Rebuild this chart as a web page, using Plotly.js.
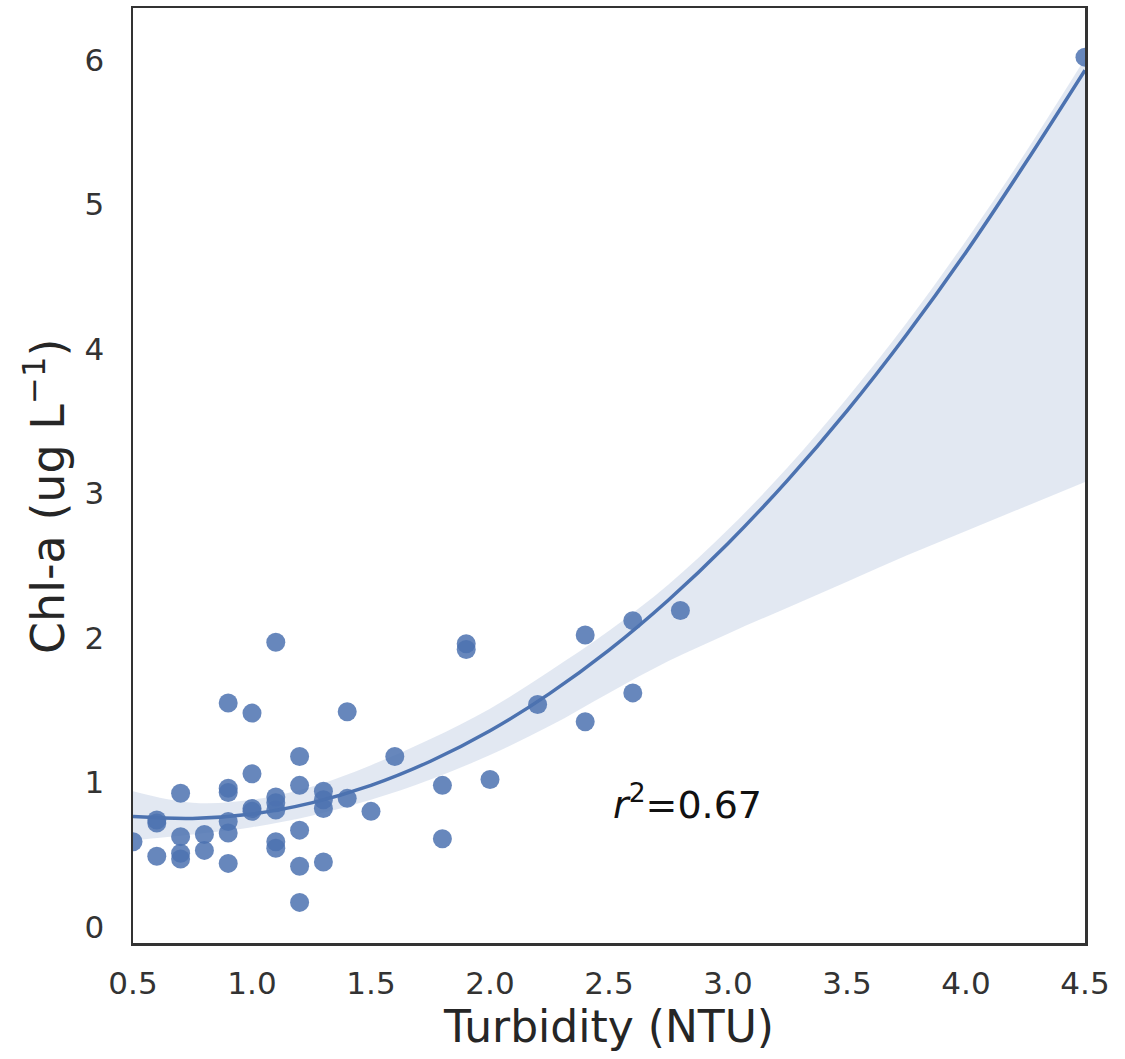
<!DOCTYPE html>
<html>
<head>
<meta charset="utf-8">
<script src="https://cdn.plot.ly/plotly-3.0.1.min.js"></script>
<style>
html,body{margin:0;padding:0;background:#fff;}
#chart{width:1125px;height:1059px;}
</style>
</head>
<body>
<div id="chart"></div>
<script>
// Observed samples: turbidity (NTU) and Chl-a (ug/L)
const turbidity = [
  0.5,
  0.6, 0.6, 0.6,
  0.7, 0.7, 0.7, 0.7,
  0.8, 0.8,
  0.9, 0.9, 0.9, 0.9, 0.9, 0.9,
  1.0, 1.0, 1.0, 1.0,
  1.1, 1.1, 1.1, 1.1, 1.1, 1.1,
  1.2, 1.2, 1.2, 1.2, 1.2,
  1.3, 1.3, 1.3, 1.3,
  1.4, 1.4,
  1.5,
  1.6,
  1.8, 1.8,
  1.9, 1.9,
  2.0,
  2.2,
  2.4, 2.4,
  2.6, 2.6,
  2.8,
  4.5
];
const chla = [
  0.59,
  0.74, 0.72, 0.49,
  0.925, 0.625, 0.51, 0.47,
  0.64, 0.53,
  1.55, 0.96, 0.93, 0.73, 0.65, 0.44,
  1.48, 1.06, 0.82, 0.80,
  1.97, 0.90, 0.86, 0.81, 0.59, 0.545,
  1.18, 0.98, 0.67, 0.42, 0.17,
  0.94, 0.88, 0.82, 0.45,
  1.49, 0.89,
  0.80,
  1.18,
  0.98, 0.61,
  1.96, 1.92,
  1.02,
  1.54,
  2.02, 1.42,
  2.12, 1.62,
  2.19,
  6.02
];

// Second-order regression curve and its confidence band
const fitX      = [0.5, 0.75, 1.0, 1.25, 1.5, 1.75, 2.0, 2.25, 2.5, 2.75, 3.0, 3.25, 3.5, 3.75, 4.0, 4.25, 4.5];
const fitY      = [0.764, 0.751, 0.782, 0.859, 0.98, 1.147, 1.358, 1.615, 1.916, 2.263, 2.654, 3.091, 3.572, 4.099, 4.67, 5.287, 5.93];
const bandUpper = [0.94, 0.86, 0.88, 0.97, 1.12, 1.30, 1.51, 1.77, 2.05, 2.37, 2.75, 3.18, 3.66, 4.18, 4.75, 5.36, 6.01];
const bandLower = [0.60, 0.64, 0.69, 0.77, 0.88, 1.02, 1.19, 1.39, 1.62, 1.84, 2.03, 2.21, 2.39, 2.57, 2.74, 2.91, 3.08];

const xTicks = [0.5, 1.0, 1.5, 2.0, 2.5, 3.0, 3.5, 4.0, 4.5];
const yTicks = [0, 1, 2, 3, 4, 5, 6];
const xTitle = "Turbidity (NTU)";
const yTitle = "Chl-a (ug L<sup>−1</sup>)";
const r2Label = "<i>r</i><sup>2</sup>=0.67";

const blue = "#4C72B0";
const font = "DejaVu Sans, sans-serif";

const traces = [
  {x: fitX, y: bandLower, mode: "lines", line: {width: 0, shape: "spline"}, hoverinfo: "skip", showlegend: false},
  {x: fitX, y: bandUpper, mode: "lines", line: {width: 0, shape: "spline"}, fill: "tonexty",
   fillcolor: "rgba(76,114,176,0.16)", hoverinfo: "skip", showlegend: false},
  {x: turbidity, y: chla, mode: "markers", type: "scatter",
   marker: {size: 19, color: "rgba(76,114,176,0.85)", line: {width: 0}}, showlegend: false},
  {x: fitX, y: fitY, mode: "lines", line: {color: blue, width: 3.5, shape: "spline"}, showlegend: false}
];

const layout = {
  width: 1125, height: 1059,
  margin: {l: 133, r: 40, t: 8, b: 116},
  paper_bgcolor: "#fff", plot_bgcolor: "#fff",
  font: {family: font, color: "#262626"},
  showlegend: false,
  xaxis: {
    range: [0.5, 4.5], tickvals: xTicks, ticktext: xTicks.map(v => v.toFixed(1)),
    showgrid: false, zeroline: false, showline: true, mirror: true,
    linecolor: "#333", linewidth: 2.5, ticks: "", ticklabelstandoff: 11,
    tickfont: {size: 31, family: font, color: "#333"},
    title: {text: xTitle, font: {size: 44, family: font, color: "#262626"}, standoff: 10}
  },
  yaxis: {
    range: [-0.111, 6.36], tickvals: yTicks,
    showgrid: false, zeroline: false, showline: true, mirror: true,
    linecolor: "#333", linewidth: 2.5, ticks: "", ticklabelstandoff: 20,
    tickfont: {size: 31, family: font, color: "#333"}
  },
  annotations: [
    {x: 2.83, y: 0.865, xref: "x", yref: "y", text: r2Label, showarrow: false,
     font: {size: 38, family: font, color: "#111"}},
    {x: -0.0924, y: 0.477, xref: "paper", yref: "paper", text: yTitle, showarrow: false,
     textangle: -90, xanchor: "center", yanchor: "middle",
     font: {size: 46, family: font, color: "#262626"}}
  ]
};

Plotly.newPlot("chart", traces, layout, {displayModeBar: false, staticPlot: true});
</script>
</body>
</html>
